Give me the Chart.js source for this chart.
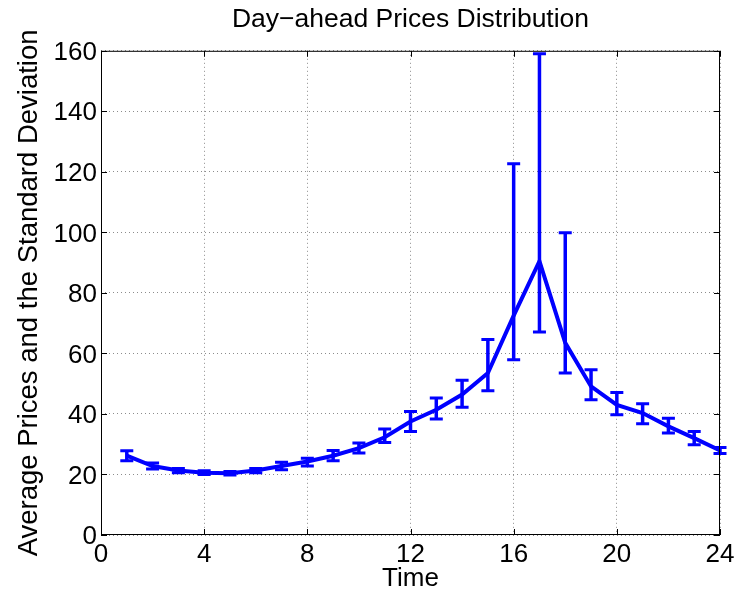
<!DOCTYPE html>
<html>
<head>
<meta charset="utf-8">
<script src="https://cdn.jsdelivr.net/npm/chart.js@4.4.0/dist/chart.umd.min.js"></script>
<style>
  html, body { margin: 0; padding: 0; background: #fff; }
  #wrap { width: 748px; height: 595px; }
</style>
</head>
<body>
<div id="wrap"><canvas id="chart" width="748" height="595"></canvas></div>
<script>
// hodiny dňa 1..24
const hours = [1, 2, 3, 4, 5, 6, 7, 8, 9, 10, 11, 12, 13, 14, 15, 16, 17, 18, 19, 20, 21, 22, 23, 24];
// priemerná cena
const avgPrice = [26.2, 22.8, 21.3, 20.6, 20.4, 21.3, 22.8, 24.3, 26.2, 28.7, 32.3, 37.5,
  41.4, 46.4, 53.5, 72.5, 90.5, 63.5, 49.1, 43.0, 40.3, 35.9, 32.0, 27.9];
// horná a dolná hranica (priemer ± smerodajná odchýlka)
const upperBound = [27.8, 23.8, 22.0, 21.2, 21.0, 22.0, 24.0, 25.4, 27.9, 30.4, 35.0, 40.8,
  45.3, 51.1, 64.6, 122.7, 159.0, 99.9, 54.6, 47.1, 43.4, 38.6, 34.2, 28.9];
const lowerBound = [24.5, 21.8, 20.6, 20.0, 19.8, 20.6, 21.6, 22.8, 24.5, 27.1, 30.6, 34.2,
  38.3, 42.2, 47.7, 57.9, 67.1, 53.5, 44.7, 39.7, 36.8, 33.7, 29.8, 26.9];
const xTicks = [0, 4, 8, 12, 16, 20, 24];
const yTicks = [0, 20, 40, 60, 80, 100, 120, 140, 160];

const BLUE = "#0000ff";
const FONT = "'Liberation Sans', Arial, sans-serif";

// Chybové úsečky s vodorovnými zarážkami.
const errorBarsPlugin = {
  id: "errorBars",
  afterDatasetsDraw(chart) {
    const { ctx, scales: { x, y } } = chart;
    ctx.save();
    ctx.strokeStyle = BLUE;
    ctx.lineCap = "butt";
    hours.forEach((h, i) => {
      const px = x.getPixelForValue(h);
      const top = y.getPixelForValue(upperBound[i]);
      const bot = y.getPixelForValue(lowerBound[i]);
      ctx.lineWidth = 3.5;
      ctx.beginPath();
      ctx.moveTo(px, top);
      ctx.lineTo(px, bot);
      ctx.stroke();
      ctx.lineWidth = 3;
      ctx.beginPath();
      ctx.moveTo(px - 6.5, top);
      ctx.lineTo(px + 6.5, top);
      ctx.moveTo(px - 6.5, bot);
      ctx.lineTo(px + 6.5, bot);
      ctx.stroke();
    });
    ctx.restore();
  },
};

// Rám okolo grafu a dovnútra smerujúce značky (štýl MATLAB).
const frameTicksPlugin = {
  id: "frameTicks",
  afterDraw(chart) {
    const { ctx, chartArea: { left, right, top, bottom }, scales: { x, y } } = chart;
    ctx.save();
    ctx.strokeStyle = "#000";
    ctx.lineWidth = 1;
    ctx.strokeRect(left + 0.5, top + 0.5, right - left - 1, bottom - top - 1);
    const len = 6;
    ctx.beginPath();
    xTicks.forEach((v) => {
      const px = Math.round(x.getPixelForValue(v)) + 0.5;
      ctx.moveTo(px, bottom);
      ctx.lineTo(px, bottom - len);
      ctx.moveTo(px, top);
      ctx.lineTo(px, top + len);
    });
    yTicks.forEach((v) => {
      const py = Math.round(y.getPixelForValue(v)) + 0.5;
      ctx.moveTo(left, py);
      ctx.lineTo(left + len, py);
      ctx.moveTo(right, py);
      ctx.lineTo(right - len, py);
    });
    ctx.stroke();
    ctx.restore();
  },
};

const gridStyle = {
  color: "#8c8c8c",
  lineWidth: 1,
  drawTicks: false,
};

new Chart(document.getElementById("chart"), {
  type: "line",
  data: {
    datasets: [
      {
        label: "Average price",
        data: hours.map((h, i) => ({ x: h, y: avgPrice[i] })),
        borderColor: BLUE,
        backgroundColor: BLUE,
        borderWidth: 4,
        pointRadius: 0,
        tension: 0,
      },
    ],
  },
  options: {
    responsive: false,
    animation: false,
    layout: { padding: { left: 0, right: 28, top: 0, bottom: 0 } },
    plugins: {
      legend: { display: false },
      tooltip: { enabled: false },
      title: {
        display: true,
        fullSize: false,
        text: "Day\u2212ahead Prices Distribution",
        color: "#000",
        font: { family: FONT, size: 26.5, weight: "normal", lineHeight: 1.2 },
        padding: { top: 4, bottom: 15 },
      },
    },
    scales: {
      x: {
        type: "linear",
        min: 0,
        max: 24,
        afterBuildTicks: (s) => { s.ticks = xTicks.map((v) => ({ value: v })); },
        afterFit: (s) => { s.height = 60; },
        grid: { ...gridStyle },
        border: { display: false, dash: [1, 3] },
        ticks: { color: "#000", font: { family: FONT, size: 26 }, padding: 4, maxRotation: 0 },
        title: {
          display: true,
          text: "Time",
          color: "#000",
          font: { family: FONT, size: 26, lineHeight: 1.2 },
          padding: { top: 0, bottom: 1 },
        },
      },
      y: {
        type: "linear",
        min: 0,
        max: 160,
        afterBuildTicks: (s) => { s.ticks = yTicks.map((v) => ({ value: v })); },
        afterFit: (s) => { s.width = 101; },
        grid: { ...gridStyle },
        border: { display: false, dash: [1, 3] },
        ticks: { color: "#000", font: { family: FONT, size: 26 }, padding: 4, labelOffset: 2 },
        title: {
          display: true,
          text: "Average Prices and the Standard Deviation",
          color: "#000",
          font: { family: FONT, size: 27.5, lineHeight: 1.2 },
          padding: { top: 13, bottom: 0 },
        },
      },
    },
  },
  plugins: [errorBarsPlugin, frameTicksPlugin],
});
</script>
</body>
</html>
